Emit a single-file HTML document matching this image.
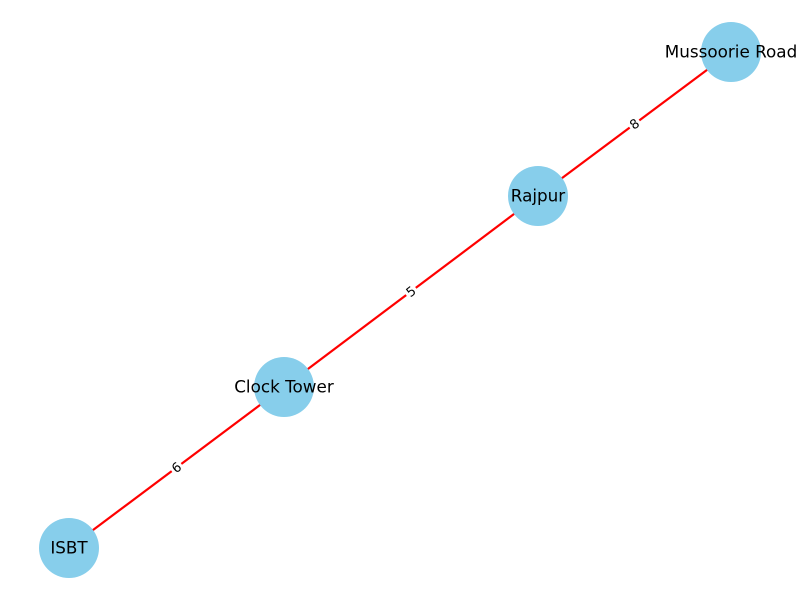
<!DOCTYPE html>
<html><head><meta charset="utf-8"><style>
html,body{margin:0;padding:0;background:#fff;}
svg{display:block;font-family:"DejaVu Sans","Liberation Sans",sans-serif;}
</style></head><body>
<svg id="chart" width="800" height="600" viewBox="0 0 800 600"></svg>
<script>
const nodeNames = ["ISBT", "Clock Tower", "Rajpur", "Mussoorie Road"];
const nodeX = [69, 284, 538, 731];
const nodeY = [548, 387, 196, 52];
const edgeFrom = [0, 1, 2];
const edgeTo = [1, 2, 3];
const edgeWeights = [6, 5, 8];

const NS = "http://www.w3.org/2000/svg";
const svg = document.getElementById("chart");
function mk(tag, attrs, parent) {
  const e = document.createElementNS(NS, tag);
  for (const k in attrs) e.setAttribute(k, attrs[k]);
  (parent || svg).appendChild(e);
  return e;
}
const gE = mk("g", {});


const gN = mk("g", {});


const gL = mk("g", {});



edgeFrom.forEach((a, i) => {
  const b = edgeTo[i];
  const line = mk("line", {x1: nodeX[a], y1: nodeY[a], x2: nodeX[b], y2: nodeY[b], stroke: "#ff0000", "stroke-width": 2.2}, gE);
  
  
  const mx = (nodeX[a] + nodeX[b]) / 2, my = (nodeY[a] + nodeY[b]) / 2;
  const ang = Math.atan2(nodeY[b] - nodeY[a], nodeX[b] - nodeX[a]) * 180 / Math.PI;
  const g = mk("g", {transform: `translate(${mx},${my}) rotate(${ang})`}, gL);
  
  
  mk("rect", {x: -6, y: -8, width: 12, height: 16, fill: "#fff"}, g);
  const t = mk("text", {x: 0, y: 4.5, "text-anchor": "middle", "font-size": 13, fill: "#000"}, g);
  t.textContent = edgeWeights[i];
});

nodeNames.forEach((n, i) => {
  const g = mk("g", {}, gN);
  
  
  mk("circle", {cx: nodeX[i], cy: nodeY[i], r: 30, fill: "#87ceeb"}, g);
  const t = mk("text", {x: nodeX[i], y: nodeY[i] + 5.5, "text-anchor": "middle", "font-size": 16.8, fill: "#000"}, g);
  t.textContent = n;
});
</script>
</body></html>
